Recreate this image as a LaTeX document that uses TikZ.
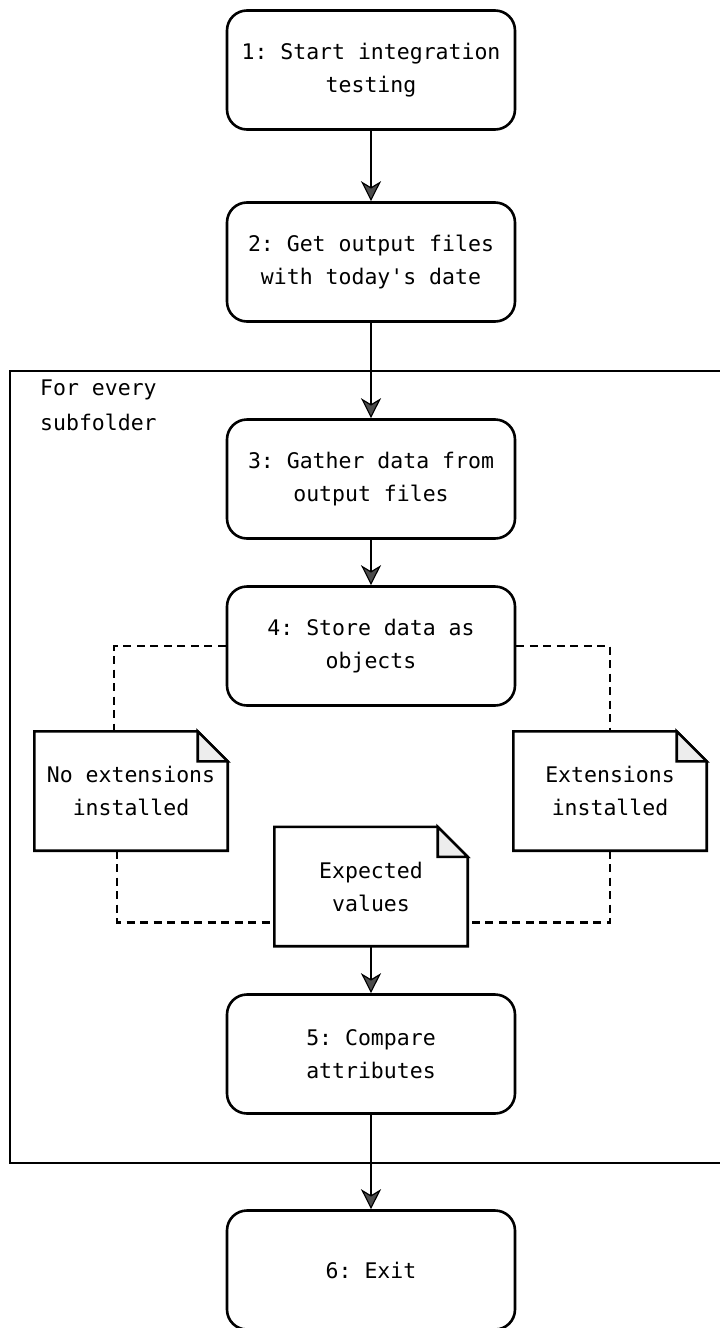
\documentclass[tikz,border=0pt]{standalone}
\usepackage{fontspec}
\setmonofont{DejaVu Sans Mono}
\usetikzlibrary{arrows.meta}

\tikzset{
	proc/.style = {draw, rectangle, rounded corners=20pt, line width=2.6pt,
		minimum width=288pt, minimum height=119pt, align=center,
		font=\ttfamily\fontsize{21.5}{33}\selectfont},
	memo/.style = {rectangle, minimum width=193pt, minimum height=119pt, align=center,
		font=\ttfamily\fontsize{21.5}{33}\selectfont},
	flow/.style = {line width=2.4pt, -{Stealth[length=20pt,width=20pt,inset=6pt,fill=black!70,line width=1.2pt]}},
	link/.style = {line width=2.3pt, dash pattern=on 8pt off 5.5pt}
}

\begin{document}
\begin{tikzpicture}[x=1pt,y=-1pt]
	\useasboundingbox (0,0) rectangle (720,1328);
	\clip (0,0) rectangle (720,1328);
	\draw[line width=2.4pt] (724,371) -- (10,371) -- (10,1163) -- (724,1163);
	\node[anchor=north west, align=left, inner sep=0pt,
		font=\ttfamily\fontsize{21.5}{35}\selectfont] (loop) at (40,380) {For every\\subfolder};
	\node[proc] (b1) at (371,70) {1: Start integration\\testing};
	\node[proc] (b2) at (371,262) {2: Get output files\\with today's date};
	\node[proc] (b3) at (371,479) {3: Gather data from\\output files};
	\node[proc] (b4) at (371,646) {4: Store data as\\objects};
	\node[memo] (nL) at (131,791) {No extensions\\installed};
	\node[memo] (nR) at (610,791) {Extensions\\installed};
	\node[memo] (nE) at (371,886.5) {Expected\\values};
	\node[proc] (b5) at (371,1054) {5: Compare\\attributes};
	\node[proc] (b6) at (371,1270) {6: Exit};
	\foreach \n in {nL,nR,nE} {
		\draw[line width=2.6pt, line join=miter] (\n.north west) -- ([xshift=-30pt]\n.north east)
			-- ([yshift=-30pt]\n.north east) -- (\n.south east) -- (\n.south west) -- cycle;
		\filldraw[fill=black!7, line width=2.6pt] ([xshift=-30pt]\n.north east)
			-- ([xshift=-30pt,yshift=-30pt]\n.north east) -- ([yshift=-30pt]\n.north east) -- cycle;
	}
	\draw[flow] (b1) -- (b2);
	\draw[flow] (b2) -- (b3);
	\draw[flow] (b3) -- (b4);
	\draw[flow] (nE) -- (b5);
	\draw[flow] (b5) -- (b6);
	\draw[link] (b4.west) -| ([xshift=80pt]nL.north west);
	\draw[link] (b4.east) -| ([xshift=97pt]nR.north west);
	\draw[link] ([xshift=83pt]nL.south west) |- ([yshift=-36pt]nE.west);
	\draw[link] ([xshift=97pt]nR.south west) |- ([yshift=-36pt]nE.east);
\end{tikzpicture}
\end{document}
